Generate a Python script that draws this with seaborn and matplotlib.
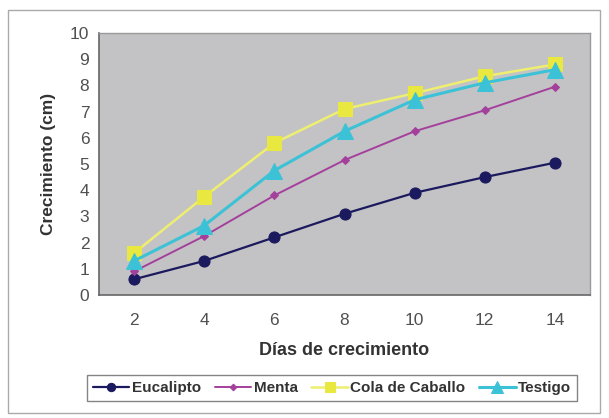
import matplotlib
matplotlib.use("Agg")
import matplotlib.pyplot as plt
import seaborn as sns
import pandas as pd
from matplotlib.patches import Rectangle

dias = [2, 4, 6, 8, 10, 12, 14]
eucalipto = [0.6, 1.3, 2.2, 3.1, 3.9, 4.5, 5.05]
menta = [0.9, 2.25, 3.8, 5.15, 6.25, 7.05, 7.95]
cola_caballo = [1.6, 3.75, 5.8, 7.1, 7.7, 8.35, 8.8]
testigo = [1.3, 2.65, 4.75, 6.25, 7.45, 8.1, 8.6]

series = ["Eucalipto", "Menta", "Cola de Caballo", "Testigo"]
values = [eucalipto, menta, cola_caballo, testigo]

rows = []
for name, vals in zip(series, values):
    for i, (d, v) in enumerate(zip(dias, vals)):
        rows.append({"pos": i, "dia": d, "valor": v, "serie": name})
df = pd.DataFrame(rows)

sns.set_theme(style="white")
plt.rcParams['font.family'] = ['Liberation Sans', 'DejaVu Sans']

fig = plt.figure(figsize=(6.09, 4.18), dpi=100)
ax = fig.add_axes([99/609, 1 - 295/418, (590 - 99)/609, (295 - 33)/418])
ax.set_facecolor('#c3c3c5')

styles = {
    "Eucalipto": dict(color='#1c1a5e', marker='o', markersize=8, lw=1.6, mfc='#1c1a5e', mec='#1c1a5e'),
    "Menta": dict(color='#a4409c', marker='D', markersize=4.5, lw=1.4, mfc='#a4409c', mec='#a4409c'),
    "Cola de Caballo": dict(color='#eeee70', marker='s', markersize=10, lw=1.8, mfc='#e8e840', mec='#e8e840'),
    "Testigo": dict(color='#3cc2d6', marker='^', markersize=11, lw=2.2, mfc='#3cc2d6', mec='#3cc2d6'),
}
for name in series:
    st = styles[name]
    sub = df[df.serie == name]
    sns.lineplot(data=sub, x="pos", y="valor", ax=ax, color=st['color'], lw=st['lw'],
                 marker=st['marker'], markersize=st['markersize'],
                 markerfacecolor=st['mfc'], markeredgecolor=st['mec'],
                 label=name, legend=False)

ax.set_xlim(-0.5, 6.5)
ax.set_ylim(0, 10)
ax.set_yticks(range(0, 11))
ax.set_xticks(range(len(dias)))
ax.set_xticklabels([str(d) for d in dias])
ax.set_xticks([i + 0.5 for i in range(-1, 7)], minor=True)
ax.tick_params(axis='x', which='major', length=0, pad=13, labelsize=12.5, labelcolor='#505050')
ax.tick_params(axis='x', which='minor', length=6, direction='inout', color='#666666', width=1)
ax.tick_params(axis='y', which='major', length=6, direction='inout', color='#666666', width=1,
               labelsize=12.5, labelcolor='#505050', pad=4)

for side in ['top', 'right']:
    ax.spines[side].set_color('#9a9a9a')
    ax.spines[side].set_linewidth(1)
ax.spines['left'].set_color('#666666')
ax.spines['bottom'].set_color('#666666')
ax.spines['left'].set_linewidth(1.2)
ax.spines['bottom'].set_linewidth(1.2)

ax.set_xlabel("Días de crecimiento", fontsize=13, fontweight='bold', color='#333333', labelpad=10)
ax.set_ylabel("Crecimiento (cm)", fontsize=12.5, fontweight='bold', color='#333333', labelpad=10)

handles, labels = ax.get_legend_handles_labels()
leg = fig.legend(handles, labels, loc='center', bbox_to_anchor=(332/609, 1 - 388/418), ncol=4,
                 frameon=True, fancybox=False, fontsize=11, handlelength=2.4, handletextpad=0.15,
                 columnspacing=0.9, borderpad=0.4, edgecolor='#666666', markerscale=0.75)
leg.get_frame().set_linewidth(1)
for t in leg.get_texts():
    t.set_fontweight('bold')
    t.set_color('#333333')

fig.patches.append(Rectangle((8/609, 1 - 413/418), (600 - 8)/609, (413 - 10)/418,
                             transform=fig.transFigure, fill=False, edgecolor='#aaaaaa', lw=1))

fig.savefig("out.png", dpi=100)
